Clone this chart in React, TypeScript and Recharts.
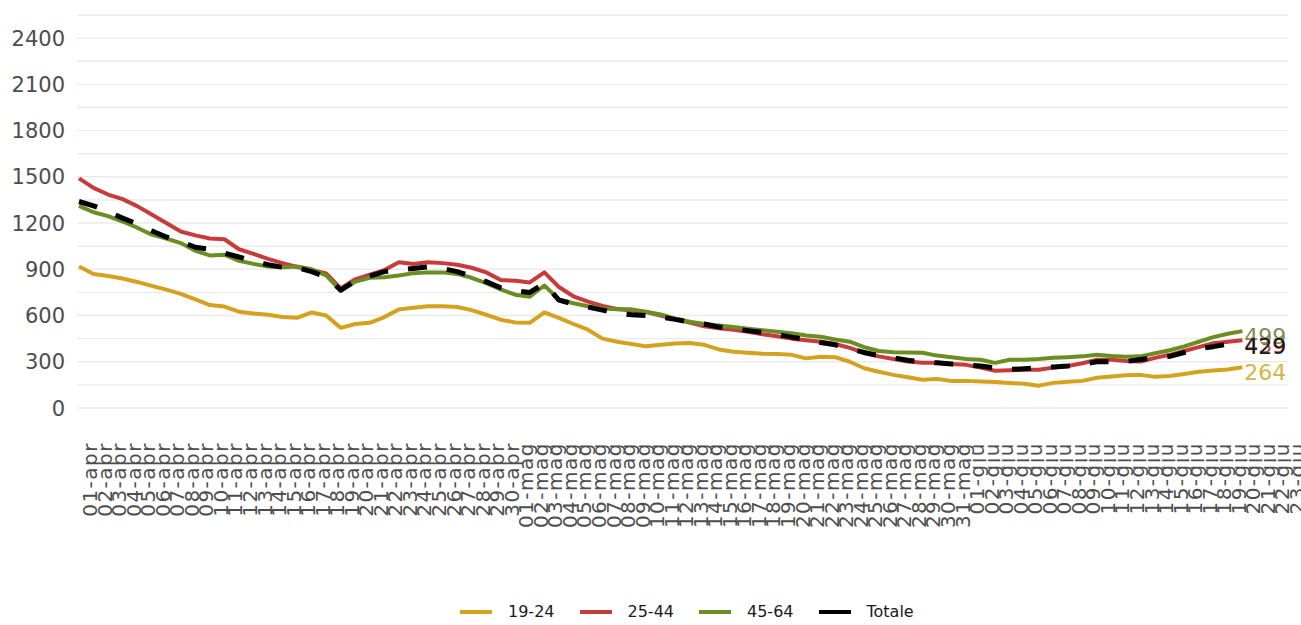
import React from 'react';
import { LineChart, Line, XAxis, YAxis, CartesianGrid } from 'recharts';

const aprDays = ['01-apr','02-apr','03-apr','04-apr','05-apr','06-apr','07-apr','08-apr','09-apr','10-apr','11-apr','12-apr','13-apr','14-apr','15-apr','16-apr','17-apr','18-apr','19-apr','20-apr','21-apr','22-apr','23-apr','24-apr','25-apr','26-apr','27-apr','28-apr','29-apr','30-apr'];
const magDays = ['01-mag','02-mag','03-mag','04-mag','05-mag','06-mag','07-mag','08-mag','09-mag','10-mag','11-mag','12-mag','13-mag','14-mag','15-mag','16-mag','17-mag','18-mag','19-mag','20-mag','21-mag','22-mag','23-mag','24-mag','25-mag','26-mag','27-mag','28-mag','29-mag','30-mag','31-mag'];
const giuDays = ['01-giu','02-giu','03-giu','04-giu','05-giu','06-giu','07-giu','08-giu','09-giu','10-giu','11-giu','12-giu','13-giu','14-giu','15-giu','16-giu','17-giu','18-giu','19-giu','20-giu','21-giu','22-giu','23-giu'];
const categories = [...aprDays, ...magDays, ...giuDays];

const age1924 = [
  918, 870, 857, 840, 818, 792, 768, 740, 705, 668,
  658, 625, 613, 605, 590, 585, 620, 600, 520, 545,
  553, 590, 640, 650, 660, 660, 655, 635, 605, 573,
  555, 553, 620, 585, 545, 508, 450, 430, 415, 400,
  411, 418, 422, 410, 380, 365, 358, 352, 350, 345,
  322, 333, 330, 300, 258, 235, 215, 200, 183, 189,
  175, 176, 172, 168, 163, 157, 145, 163, 170, 176,
  196, 205, 212, 215, 202, 207, 220, 235, 243, 250,
  264,
];
const age2544 = [
  1490, 1428, 1385, 1355, 1310, 1255, 1200, 1145, 1120, 1100,
  1095, 1030, 1000, 968, 940, 915, 895, 873, 776, 835,
  865, 895, 946, 935, 946, 940, 930, 910, 880, 830,
  825, 815, 880, 785, 725, 690, 662, 642, 632, 622,
  600, 575, 555, 530, 518, 508, 494, 478, 465, 450,
  440, 430, 415, 390, 357, 335, 318, 302, 293, 293,
  285, 280, 262, 242, 245, 248, 248, 262, 272, 290,
  313, 313, 305, 302, 325, 345, 370, 395, 420, 430,
  439,
];
const age4564 = [
  1311, 1270, 1245, 1210, 1170, 1125, 1100, 1070, 1020, 990,
  995, 955, 935, 918, 913, 918, 900, 860, 760, 820,
  845, 848, 860, 875, 880, 880, 870, 845, 810, 770,
  735, 722, 795, 705, 680, 660, 645, 640, 640, 625,
  607, 580, 560, 545, 535, 525, 515, 505, 495, 485,
  470, 462, 445, 430, 395, 370, 362, 360, 358, 340,
  330, 318, 313, 293, 313, 313, 318, 326, 330, 335,
  346, 338, 333, 335, 355, 375, 400, 430, 460, 482,
  499,
];
const totale = [
  1340, 1312, 1275, 1232, 1195, 1150, 1110, 1080, 1043, 1030,
  1005, 980, 952, 930, 913, 910, 885, 850, 765, 825,
  855, 885, 895, 905, 915, 905, 885, 855, 820, 780,
  760, 750, 808, 700, 675, 655, 635, 615, 605, 600,
  590, 575, 558, 545, 525, 515, 502, 490, 478, 460,
  443, 425, 410, 385, 360, 340, 326, 310, 300, 293,
  285, 278, 272, 260, 250, 255, 262, 266, 272, 282,
  300, 300, 302, 315, 325, 335, 360, 385, 398, 415,
  429,
];

const yTicks = [0, 150, 300, 450, 600, 750, 900, 1050, 1200, 1350, 1500, 1650, 1800, 1950, 2100, 2250, 2400];
const yLabelTicks = [0, 300, 600, 900, 1200, 1500, 1800, 2100, 2400];

const seriesNames = ['19-24', '25-44', '45-64', 'Totale'];
const seriesColors = ['#D4A21F', '#C73B3B', '#6B8E23', '#000000'];
const labelColors = ['#D6B548', '#B8504F', '#7D8E55', '#1a1a1a'];

const LAST = age1924.length - 1;
const FONT = '"DejaVu Sans", Verdana, sans-serif';

const data = categories.map((date, i) => ({
  date,
  a: i < age1924.length ? age1924[i] : null,
  b: i < age2544.length ? age2544[i] : null,
  c: i < age4564.length ? age4564[i] : null,
  t: i < totale.length ? totale[i] : null,
}));

const YTick = (props: any) => {
  const { x, y, payload } = props;
  if (!yLabelTicks.includes(payload.value)) return null;
  return (
    <text x={x} y={y} dy="0.36em" textAnchor="end" fill="#4d4d4d" fontSize={21} fontFamily={FONT}>
      {payload.value}
    </text>
  );
};

const XTick = (props: any) => {
  const { x, y, payload } = props;
  return (
    <text
      transform={`translate(${x + 11}, ${y + 34}) rotate(-90)`}
      textAnchor="end"
      dominantBaseline="central"
      fill="#4d4d4d"
      fontSize={20}
      letterSpacing={1.5}
      fontFamily={FONT}
    >
      {payload.value}
    </text>
  );
};

const endLabel = (color: string) => (props: any) => {
  const { x, y, index, value } = props;
  if (index !== LAST || value == null) return null;
  return (
    <text x={x + 2} y={y} dy={5} dominantBaseline="central" fill={color} fontSize={22} fontFamily={FONT}>
      {value}
    </text>
  );
};

export default function App() {
  return (
    <div style={{ position: 'absolute', left: 0, top: 0, width: 1301, height: 625, background: '#fff' }}>
      <LineChart width={1301} height={625} data={data} margin={{ top: 15, right: 13, bottom: 0, left: 0 }}>
        <CartesianGrid vertical={false} stroke="#EBEBEB" strokeWidth={1.4} />
        <XAxis
          dataKey="date"
          interval={0}
          height={217}
          tickLine={false}
          axisLine={false}
          tickSize={0}
          tickMargin={0}
          padding={{ left: 2, right: 2 }}
          tick={<XTick />}
        />
        <YAxis
          domain={[0, 2550]}
          ticks={yTicks}
          width={77}
          tickLine={false}
          axisLine={false}
          tickSize={0}
          tickMargin={12}
          tick={<YTick />}
        />
        <Line type="linear" dataKey="a" name={seriesNames[0]} stroke={seriesColors[0]} strokeWidth={4} dot={false} isAnimationActive={false} strokeLinejoin="round" label={endLabel(labelColors[0])} />
        <Line type="linear" dataKey="b" name={seriesNames[1]} stroke={seriesColors[1]} strokeWidth={4} dot={false} isAnimationActive={false} strokeLinejoin="round" label={endLabel(labelColors[1])} />
        <Line type="linear" dataKey="c" name={seriesNames[2]} stroke={seriesColors[2]} strokeWidth={4} dot={false} isAnimationActive={false} strokeLinejoin="round" label={endLabel(labelColors[2])} />
        <Line type="linear" dataKey="t" name={seriesNames[3]} stroke={seriesColors[3]} strokeWidth={5} strokeDasharray="19 20" dot={false} isAnimationActive={false} strokeLinejoin="round" label={endLabel(labelColors[3])} />
      </LineChart>
      <div
        style={{
          position: 'absolute',
          left: 460,
          top: 603,
          display: 'flex',
          alignItems: 'center',
          fontFamily: FONT,
          fontSize: 16,
          lineHeight: '18px',
          color: '#1a1a1a',
        }}
      >
        {seriesNames.map((name, i) => (
          <div key={name} style={{ display: 'flex', alignItems: 'center', marginRight: 25 }}>
            <span style={{ display: 'inline-block', width: 32, height: 4, background: seriesColors[i], marginRight: 16 }} />
            <span>{name}</span>
          </div>
        ))}
      </div>
    </div>
  );
}
